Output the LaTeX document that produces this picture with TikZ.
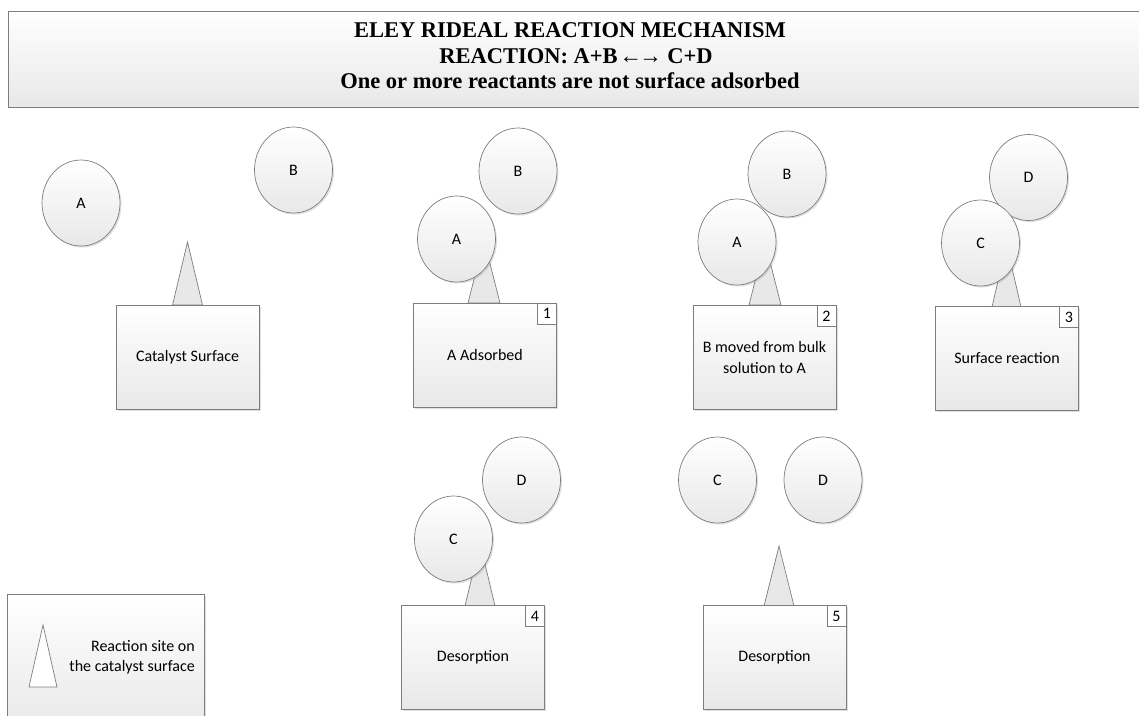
\documentclass[tikz,border=0pt]{standalone}
\usepackage{fontspec}
\setmainfont{Carlito}
\newfontfamily\titlefont{Liberation Serif}
\usetikzlibrary{shapes.geometric,shadows}
\definecolor{edge}{RGB}{125,125,125}
\definecolor{shadefill}{RGB}{232,232,232}
\begin{document}
\begin{tikzpicture}[x=1pt,y=-1pt,
  base/.style={draw=edge,line width=0.7pt,top color=white,bottom color=shadefill,
    drop shadow={shadow xshift=1.5pt,shadow yshift=-1.5pt,opacity=0.25,fill=gray}},
  molecule/.style={base,ellipse,minimum width=78pt,minimum height=86pt,inner sep=0pt,
    font=\fontsize{16}{18}\selectfont},
  surface/.style={base,rectangle,minimum width=143pt,minimum height=104pt,inner sep=0pt,
    font=\fontsize{16}{21}\selectfont,align=center},
  stepnum/.style={draw=edge,line width=0.7pt,fill=white,minimum width=19pt,minimum height=21pt,
    inner sep=0pt,anchor=north east,font=\fontsize{16}{18}\selectfont},
  site/.style={draw=edge,line width=0.7pt,fill=shadefill},
  titletext/.style={font=\titlefont\bfseries\fontsize{22.5}{26}\selectfont,inner sep=0pt}
]
\useasboundingbox (0,0) rectangle (1139,715);
% title
\draw[draw=edge,line width=0.8pt,top color=white,bottom color=shadefill] (8,11) rectangle (1150,107);
\node[titletext] (t1) at (570,30) {ELEY RIDEAL REACTION MECHANISM};
\node[titletext] (t2) at (576,56) {REACTION: A+B\kern2pt←\kern-3pt→ C+D};
\node[titletext] (t3) at (570,81) {One or more reactants are not surface adsorbed};

% panel 0
\draw[site] (172.5,305) -- (187.5,242) -- (202.5,305) -- cycle;
\node[surface] (s0) at (187.5,357.5) {Catalyst Surface};
\node[molecule] (a0) at (81,203) {A};
\node[molecule] (b0) at (293.5,170) {B};

% panel 1
\draw[site] (468,303) -- (484,240) -- (500,303) -- cycle;
\node[surface] (s1) at (485,355) {A Adsorbed};
\node[stepnum] (n1) at (s1.north east) {1};
\node[molecule] (b1) at (518,171) {B};
\node[molecule] (a1) at (456.5,239) {A};

% panel 2
\draw[site] (749,305) -- (765,242) -- (781,305) -- cycle;
\node[surface] (s2) at (764.5,357.5) {B moved from bulk\\solution to A};
\node[stepnum] (n2) at (s2.north east) {2};
\node[molecule] (b2) at (787,174) {B};
\node[molecule] (a2) at (737,242) {A};

% panel 3
\draw[site] (992,307) -- (1006.5,244) -- (1021,307) -- cycle;
\node[surface] (s3) at (1007,358.5) {Surface reaction};
\node[stepnum] (n3) at (s3.north east) {3};
\node[molecule] (d3) at (1028.5,177.5) {D};
\node[molecule] (c3) at (980.5,243) {C};

% panel 4
\draw[site] (465,606) -- (480,543) -- (495,606) -- cycle;
\node[surface] (s4) at (473,657.5) {Desorption};
\node[stepnum] (n4) at (s4.north east) {4};
\node[molecule] (d4) at (521.5,480) {D};
\node[molecule] (c4) at (453.5,539) {C};

% panel 5
\draw[site] (764,606) -- (779,546) -- (794,606) -- cycle;
\node[surface] (s5) at (774.5,657.5) {Desorption};
\node[stepnum] (n5) at (s5.north east) {5};
\node[molecule] (c5) at (717.5,480) {C};
\node[molecule] (d5) at (823,480) {D};

% legend
\draw[base] (7,594) rectangle (204,730);
\draw[draw=edge,line width=0.7pt,fill=white] (29,687) -- (43,625) -- (57,687) -- cycle;
\node[font=\fontsize{16}{20}\selectfont,align=right,anchor=east,inner sep=0pt] (lg) at (195,657) {Reaction site on\\the catalyst surface};
\end{tikzpicture}
\end{document}
